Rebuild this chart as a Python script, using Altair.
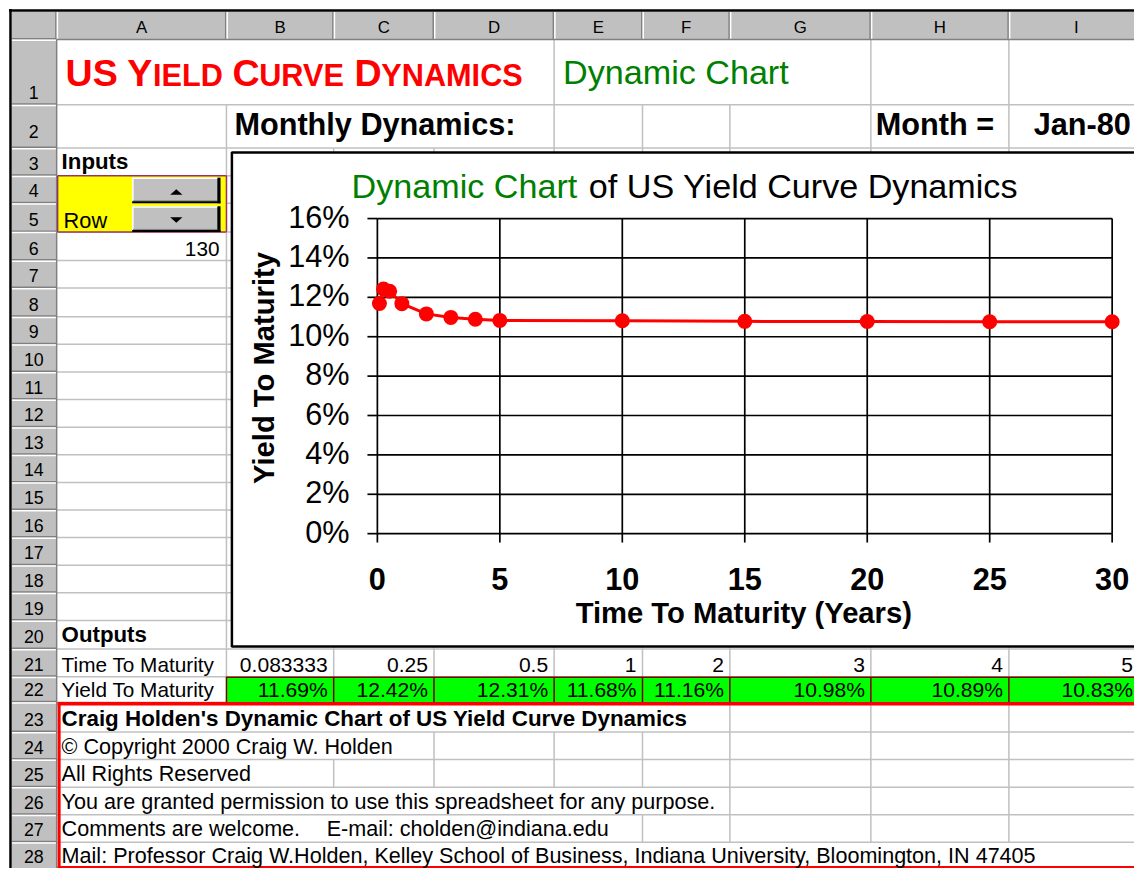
import altair as alt
import pandas as pd

# ---------------- chart data ----------------
maturity = [1 / 12, 0.25, 0.5, 1, 2, 3, 4, 5, 10, 15, 20, 25, 30]
ytm = [0.1169, 0.1242, 0.1231, 0.1168, 0.1116, 0.1098, 0.1089, 0.1083,
       0.1081, 0.1078, 0.1077, 0.1076, 0.1076]
x_ticks = [0, 5, 10, 15, 20, 25, 30]
x_tick_labels = ["0", "5", "10", "15", "20", "25", "30"]
y_ticks = [0.00, 0.02, 0.04, 0.06, 0.08, 0.10, 0.12, 0.14, 0.16]
y_tick_labels = ["0%", "2%", "4%", "6%", "8%", "10%", "12%", "14%", "16%"]

# ---------------- sheet contents ----------------
col_letters = ["A", "B", "C", "D", "E", "F", "G", "H", "I"]
row_numbers = list(range(1, 29))
table_maturity = ["0.083333", "0.25", "0.5", "1", "2", "3", "4", "5"]
table_yield = ["11.69%", "12.42%", "12.31%", "11.68%", "11.16%", "10.98%", "10.89%", "10.83%"]
sheet_title_parts = [("US", True), ("Y", True), ("IELD", False), ("C", True),
                     ("URVE", False), ("D", True), ("YNAMICS", False)]
notes = [
    "Craig Holden's Dynamic Chart of US Yield Curve Dynamics",
    "\u00a9 Copyright 2000 Craig W. Holden",
    "All Rights Reserved",
    "You are granted permission to use this spreadsheet for any purpose.",
    "Comments are welcome.",
    "Mail: Professor Craig W.Holden, Kelley School of Business, Indiana University, Bloomington, IN 47405",
]
email_text = "E-mail: cholden@indiana.edu"

# ---------------- layout ----------------
FONT = "Liberation Sans, Arial, Helvetica, sans-serif"
W, H = 1126, 860
X0, X1 = 4, 1138
Y0, Y1 = 4, 876
KX = W / (X1 - X0)
KY = H / (Y1 - Y0)
FS = (KX + KY) / 2

COL_EDGES = [53, 224, 332, 433, 554, 643, 731, 873, 1012, 1150]
ROW_EDGES = [36, 102, 146, 174, 202, 231, 260, 288, 317, 345, 373, 401, 429, 457,
             485, 513, 541, 569, 597, 625, 654, 682, 708, 738, 766, 794, 822, 850, 877]
PLOT_X0, PLOT_X1 = 376, 1116
PLOT_Y0, PLOT_Y1 = 537, 217.5


def sx(p):
    return (p - X0) * KX


def sy(p):
    return (p - Y0) * KY


def row_top(r):
    return ROW_EDGES[r - 1]


def row_bot(r):
    return ROW_EDGES[r]


GRID = "#c0c0c0"

# ---------- light cell gridlines ----------
grid_rules = []
hidden = {1: {224, 332, 433, 643, 731}, 2: {332, 433}, 22: set(COL_EDGES),
          23: {224, 332, 433, 554, 643}, 24: {224, 332}, 25: {224},
          26: {224, 332, 433, 554, 643}, 27: {224, 332, 433, 554}, 28: set(COL_EDGES)}
for r in range(1, 29):
    for xe in COL_EDGES[1:-1]:
        if xe in hidden.get(r, set()):
            continue
        grid_rules.append((xe, xe, row_top(r), row_bot(r), GRID, 1.5))
for ye in ROW_EDGES[1:-1]:
    grid_rules.append((53, 1150, ye, ye, GRID, 1.5))

# ---------- fills ----------
fills = [
    (8, 1150, 8, 36, "#c0c0c0"),
    (8, 53, 8, 877, "#c0c0c0"),
    (54, 224, 174, 231, "#ffff00"),
    (224, 1150, 682, 708, "#00ff00"),
    (129, 218, 176, 202, "#c0c0c0"),
    (129, 218, 205, 231, "#c0c0c0"),
    (229, 1150, 150, 652, "#ffffff"),
]

# ---------- borders ----------
borders = []
for xe in COL_EDGES[:-1]:
    borders.append((xe - 0.75, xe - 0.75, 8, 36, "#808080", 1.5))
    borders.append((xe + 0.75, xe + 0.75, 8, 36, "#ffffff", 1.5))
for ye in ROW_EDGES[:-1]:
    borders.append((8, 53, ye - 0.75, ye - 0.75, "#808080", 1.5))
    borders.append((8, 53, ye + 0.75, ye + 0.75, "#ffffff", 1.5))
borders += [
    (53, 1150, 36, 36, "#808080", 1.5),
    (53, 53, 36, 877, "#808080", 1.5),
    (5, 1150, 6.5, 6.5, "#000000", 2.5),
    (6.5, 6.5, 5, 877, "#000000", 2.5),
    # yellow input box
    (54, 224, 174, 174, "#993366", 1.5), (54, 224, 231, 231, "#993366", 1.5),
    (54, 54, 174, 231, "#993366", 1.5), (224, 224, 174, 231, "#993366", 1.5),
    # green output cells
    (224, 1150, 682.5, 682.5, "#800000", 1.5),
]
for xe in COL_EDGES[1:-1]:
    borders.append((xe, xe, 682, 708, "#800000", 1.5))
for (y1, y2) in [(176, 202), (205, 231)]:
    borders += [
        (129, 218, y1 + 0.75, y1 + 0.75, "#ffffff", 1.5),
        (129.75, 129.75, y1, y2, "#ffffff", 1.5),
        (130, 216, y2 - 2.5, y2 - 2.5, "#808080", 1),
        (215, 215, y1 + 1, y2 - 2, "#808080", 1),
        (129, 218, y2 - 1, y2 - 1, "#000000", 2),
        (216.5, 216.5, y1, y2, "#000000", 3),
    ]
borders += [
    # red notes box
    (54, 1150, 709.5, 709.5, "#ff0000", 3.5),
    (55.5, 55.5, 708, 877, "#ff0000", 3),
    (54, 1150, 875.5, 875.5, "#ff0000", 3),
    # chart frame
    (229, 1150, 150.5, 150.5, "#000000", 2.5),
    (229.5, 229.5, 150, 652, "#000000", 2.5),
    (229, 1150, 651.5, 651.5, "#000000", 2.5),
]

# ---------- texts (reference pixels) ----------
texts = []


def add(x, y, text, size, weight="normal", align="left", color="#000000"):
    texts.append(dict(x=x, y=y, text=text, size=size, wt=weight, al=align, color=color))


for i, letter in enumerate(col_letters):
    right = COL_EDGES[i + 1] if i < 8 else 1148
    add((COL_EDGES[i] + right) / 2, 29, letter, 17, align="center")
for r in row_numbers:
    add(30, row_bot(r) - (10 if r == 2 else 6), str(r), 18, align="center")

title_x = [62, 124, 150, 230, 257, 353, 380]
for (part, big), xp in zip(sheet_title_parts, title_x):
    add(xp, 83, part, 38 if big else 31, "bold", "left", "#ff0000")
add(563, 81, "Dynamic Chart", 34.5, "normal", "left", "#008000")
add(232, 133, "Monthly Dynamics:", 31, "bold")
add(878, 133, "Month =", 31, "bold")
add(1037, 133, "Jan-80", 31, "bold")
add(58, 167, "Inputs", 22.5, "bold")
add(60, 227, "Row", 22)
add(217, 255, "130", 21, align="right")
add(58, 647, "Outputs", 22.5, "bold")
add(58, 677, "Time To Maturity", 21)
add(58, 703, "Yield To Maturity", 21)
for i in range(8):
    xr = COL_EDGES[i + 2] - 6 if i < 7 else 1137
    add(xr, 677, table_maturity[i], 21.3, align="right")
    add(xr, 703, table_yield[i], 21.3, align="right")
note_base = [732, 760, 788, 816, 844, 871]
for i, (t, yb) in enumerate(zip(notes, note_base)):
    add(58, yb, t, 22.6 if i == 0 else 21.8, "bold" if i == 0 else "normal")
add(325, 844, email_text, 21.8)
# chart texts
add(350, 197, "Dynamic Chart", 34.5, "normal", "left", "#008000")
add(589, 197, "of US Yield Curve Dynamics", 34.5)
add(745, 628, "Time To Maturity (Years)", 29.5, "bold", "center")

tdf = pd.DataFrame(texts)
tdf["xs"] = tdf["x"].map(sx)
tdf["ys"] = tdf["y"].map(sy)
tdf["fs"] = tdf["size"] * FS


def rules_df(rows):
    d = pd.DataFrame(rows, columns=["x", "x2", "y", "y2", "color", "w"])
    for c in ["x", "x2"]:
        d[c] = d[c].map(sx)
    for c in ["y", "y2"]:
        d[c] = d[c].map(sy)
    return d


def px_rules(df):
    return alt.Chart(df).mark_rule().encode(
        x=alt.X("x:Q", scale=None, axis=None), x2="x2:Q",
        y=alt.Y("y:Q", scale=None, axis=None), y2="y2:Q",
        color=alt.Color("color:N", scale=None),
        strokeWidth=alt.StrokeWidth("w:Q", scale=None),
    )


fdf = pd.DataFrame(fills, columns=["x", "x2", "y", "y2", "color"])
for c in ["x", "x2"]:
    fdf[c] = fdf[c].map(sx)
for c in ["y", "y2"]:
    fdf[c] = fdf[c].map(sy)

layers = []
layers.append(px_rules(rules_df(grid_rules)))
layers.append(alt.Chart(fdf).mark_rect().encode(
    x=alt.X("x:Q", scale=None, axis=None), x2="x2:Q",
    y=alt.Y("y:Q", scale=None, axis=None), y2="y2:Q",
    color=alt.Color("color:N", scale=None),
))
layers.append(px_rules(rules_df(borders)))

# spin-button arrows
arrows = pd.DataFrame({"x": [sx(173.5), sx(173.5)], "y": [sy(190.5), sy(219)], "d": ["up", "down"]})
layers.append(alt.Chart(arrows[arrows["d"] == "up"]).mark_point(
    shape="M-1,0.45L1,0.45L0,-0.45Z", filled=True, size=150, color="#000000", opacity=1
).encode(x=alt.X("x:Q", scale=None, axis=None), y=alt.Y("y:Q", scale=None, axis=None)))
layers.append(alt.Chart(arrows[arrows["d"] == "down"]).mark_point(
    shape="M-1,-0.45L1,-0.45L0,0.45Z", filled=True, size=150, color="#000000", opacity=1
).encode(x=alt.X("x:Q", scale=None, axis=None), y=alt.Y("y:Q", scale=None, axis=None)))

# ---------- yield chart through scales ----------
XS = alt.Scale(domain=[0, 30], range=[sx(PLOT_X0), sx(PLOT_X1)], nice=False, zero=False)
YS = alt.Scale(domain=[0, 0.16], range=[sy(PLOT_Y0), sy(PLOT_Y1)], nice=False, zero=False)

hgrid = pd.DataFrame({"t": [0] * len(y_ticks), "t2": [30] * len(y_ticks), "v": y_ticks})
vgrid = pd.DataFrame({"t": x_ticks, "v": [0] * len(x_ticks), "v2": [0.16] * len(x_ticks)})
layers.append(alt.Chart(hgrid).mark_rule(color="#000000", strokeWidth=1.7).encode(
    x=alt.X("t:Q", scale=XS, axis=None), x2="t2:Q", y=alt.Y("v:Q", scale=YS, axis=None)))
layers.append(alt.Chart(vgrid).mark_rule(color="#000000", strokeWidth=1.7).encode(
    x=alt.X("t:Q", scale=XS, axis=None), y=alt.Y("v:Q", scale=YS, axis=None), y2="v2:Q"))
ytm_marks = pd.DataFrame({"v": y_ticks, "a": sx(366), "b": sx(376)})
layers.append(alt.Chart(ytm_marks).mark_rule(color="#000000", strokeWidth=1.7).encode(
    y=alt.Y("v:Q", scale=YS, axis=None), x=alt.X("a:Q", scale=None, axis=None), x2="b:Q"))
xtm_marks = pd.DataFrame({"t": x_ticks, "a": sy(537), "b": sy(546)})
layers.append(alt.Chart(xtm_marks).mark_rule(color="#000000", strokeWidth=1.7).encode(
    x=alt.X("t:Q", scale=XS, axis=None), y=alt.Y("a:Q", scale=None, axis=None), y2="b:Q"))

curve = pd.DataFrame({"t": maturity, "v": ytm})
layers.append(alt.Chart(curve).mark_line(color="#ff0000", strokeWidth=3).encode(
    x=alt.X("t:Q", scale=XS, axis=None), y=alt.Y("v:Q", scale=YS, axis=None)))
layers.append(alt.Chart(curve).mark_point(color="#ff0000", filled=True, size=225, opacity=1).encode(
    x=alt.X("t:Q", scale=XS, axis=None), y=alt.Y("v:Q", scale=YS, axis=None)))

xlab = pd.DataFrame({"t": x_ticks, "lab": x_tick_labels, "py": sy(585)})
layers.append(alt.Chart(xlab).mark_text(font=FONT, fontSize=31 * FS, fontWeight="bold",
                                         align="center", baseline="middle", color="#000000").encode(
    x=alt.X("t:Q", scale=XS, axis=None), y=alt.Y("py:Q", scale=None, axis=None), text="lab:N"))
ylab = pd.DataFrame({"v": y_ticks, "lab": y_tick_labels, "px": sx(348)})
layers.append(alt.Chart(ylab).mark_text(font=FONT, fontSize=31 * FS, fontWeight="normal",
                                         align="right", baseline="middle", color="#000000").encode(
    y=alt.Y("v:Q", scale=YS, axis=None), x=alt.X("px:Q", scale=None, axis=None), text="lab:N"))
ytitle = pd.DataFrame({"x": [sx(263)], "y": [sy(369)], "text": ["Yield To Maturity"]})
layers.append(alt.Chart(ytitle).mark_text(font=FONT, fontSize=29.5 * FS, fontWeight="bold", angle=270,
                                           align="center", baseline="middle", color="#000000").encode(
    x=alt.X("x:Q", scale=None, axis=None), y=alt.Y("y:Q", scale=None, axis=None), text="text:N"))

# sheet texts grouped by weight/alignment
for weight in ["normal", "bold"]:
    for align in ["left", "right", "center"]:
        sub = tdf[(tdf["wt"] == weight) & (tdf["al"] == align)]
        if len(sub) == 0:
            continue
        layers.append(alt.Chart(sub).mark_text(font=FONT, fontWeight=weight, align=align,
                                               baseline="alphabetic").encode(
            x=alt.X("xs:Q", scale=None, axis=None),
            y=alt.Y("ys:Q", scale=None, axis=None),
            text="text:N",
            color=alt.Color("color:N", scale=None),
            size=alt.Size("fs:Q", scale=None),
        ))

chart = alt.layer(*layers).properties(
    width=W, height=H, padding=0, autosize=alt.AutoSizeParams(type="none"), background="#ffffff"
).configure_view(strokeWidth=0)

chart.save("out.html", embed_options={"renderer": "svg", "actions": False})
